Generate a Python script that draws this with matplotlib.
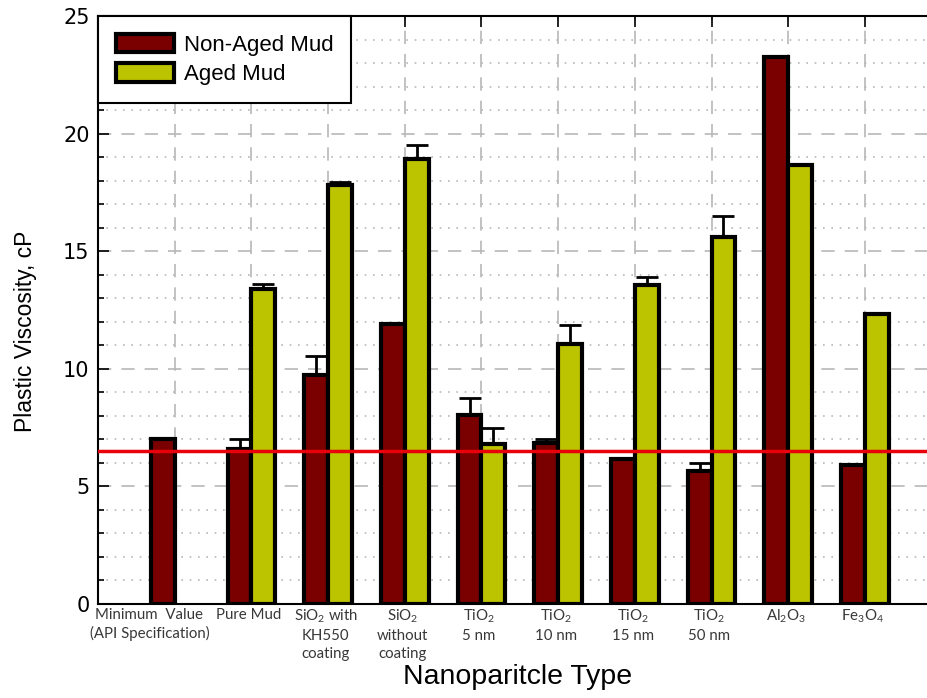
"""
Plastic viscosity of non-aged and aged mud for different nanoparticle types.
"""

import matplotlib
matplotlib.use('Agg')
import matplotlib.pyplot as plt
from matplotlib.ticker import MultipleLocator
import numpy as np

CATEGORIES = ['Minimum  Value\n(API Specification)', 'Pure Mud',
              'SiO$_2$ with\nKH550\ncoating', 'SiO$_2$\nwithout\ncoating',
              'TiO$_2$\n5 nm', 'TiO$_2$\n10 nm', 'TiO$_2$\n15 nm',
              'TiO$_2$\n50 nm', 'Al$_2$O$_3$', 'Fe$_3$O$_4$']
NON_AGED = [7.0, 6.6, 9.75, 11.9, 8.05, 6.85, 6.15, 5.65, 23.25, 5.9]
NON_AGED_ERR = [0.0, 0.4, 0.8, 0.0, 0.7, 0.15, 0.0, 0.35, 0.0, 0.0]
AGED = [np.nan, 13.4, 17.8, 18.9, 6.8, 11.05, 13.55, 15.6, 18.65, 12.35]
AGED_ERR = [0.0, 0.2, 0.15, 0.6, 0.7, 0.8, 0.35, 0.9, 0.0, 0.0]
API_LIMIT = 6.5

DARK_RED = '#7a0000'
OLIVE = '#bcc400'
BAR_W = 0.31


def main():
    plt.rcParams['mathtext.default'] = 'regular'
    fig = plt.figure(figsize=(9.28, 6.98), dpi=100)
    ax = fig.add_axes([98/928, 94/698, 836/928, 588/698])

    x = np.arange(len(CATEGORIES))
    # error bars first so the bars hide the lower half
    ax.errorbar(x - BAR_W/2, NON_AGED, yerr=NON_AGED_ERR, fmt='none',
                ecolor='black', elinewidth=2, capsize=8, capthick=2, zorder=2)
    ax.errorbar(x + BAR_W/2, AGED, yerr=AGED_ERR, fmt='none',
                ecolor='black', elinewidth=2, capsize=8, capthick=2, zorder=2)
    ax.bar(x - BAR_W/2, NON_AGED, BAR_W, color=DARK_RED, edgecolor='black',
           linewidth=3, label='Non-Aged Mud', zorder=3)
    ax.bar(x + BAR_W/2, AGED, BAR_W, color=OLIVE, edgecolor='black',
           linewidth=3, label='Aged Mud', zorder=3)
    ax.axhline(API_LIMIT, color='#e8000b', linewidth=2.5, zorder=4)

    ax.set_xlim(-1.0, 9.9)
    ax.set_ylim(0, 25)
    ax.yaxis.set_major_locator(MultipleLocator(5))
    ax.yaxis.set_minor_locator(MultipleLocator(1))
    ax.set_xticks(x)
    ax.set_xticklabels([])

    # grid
    ax.grid(axis='x', which='major', color='#b8b8b8', linestyle=(0, (8, 6)),
            linewidth=1.2, zorder=0)
    ax.grid(axis='y', which='major', color='#b8b8b8', linestyle=(0, (8, 6)),
            linewidth=1.2, zorder=0)
    ax.grid(axis='y', which='minor', color='#b8b8b8', linestyle=(0, (1, 4)),
            linewidth=1.2, zorder=0)
    ax.set_axisbelow(True)

    ax.tick_params(axis='x', which='both', top=True, bottom=False,
                   direction='in', length=8, width=1.2)
    ax.tick_params(axis='y', which='major', direction='in', length=8,
                   width=1.2, labelsize=15, pad=6)
    ax.tick_params(axis='y', which='minor', direction='in', length=4,
                   width=1.2)
    ax.spines['right'].set_visible(False)
    for s in ['left', 'top', 'bottom']:
        ax.spines[s].set_linewidth(1.5)

    # category labels
    for i, lab in enumerate(CATEGORIES):
        xpos = -0.33 if i == 0 else i - 0.03
        ax.text(xpos, -0.15, lab, ha='center', va='top', fontsize=10.8,
                color='#383838', family='Lato', linespacing=1.35)

    ax.set_ylabel('Plastic Viscosity, cP', fontsize=16.5,
                  family='Liberation Sans')
    ax.yaxis.set_label_coords(-0.073, 0.464)
    fig.text(518/928, 1 - 677/698, 'Nanoparitcle Type', fontsize=20.5,
             family='Liberation Sans', ha='center', va='center')

    leg = ax.legend(loc='upper left', bbox_to_anchor=(0, 1), fancybox=False,
                    edgecolor='black', framealpha=1, borderaxespad=0,
                    prop={'family': 'Liberation Sans', 'size': 16},
                    handlelength=2.6, handleheight=0.9, handletextpad=0.45,
                    labelspacing=0.35, borderpad=0.8)
    leg.get_frame().set_linewidth(1.5)
    leg.set_zorder(5)

    fig.savefig('out.png', dpi=100)
    plt.close()


if __name__ == '__main__':
    main()
